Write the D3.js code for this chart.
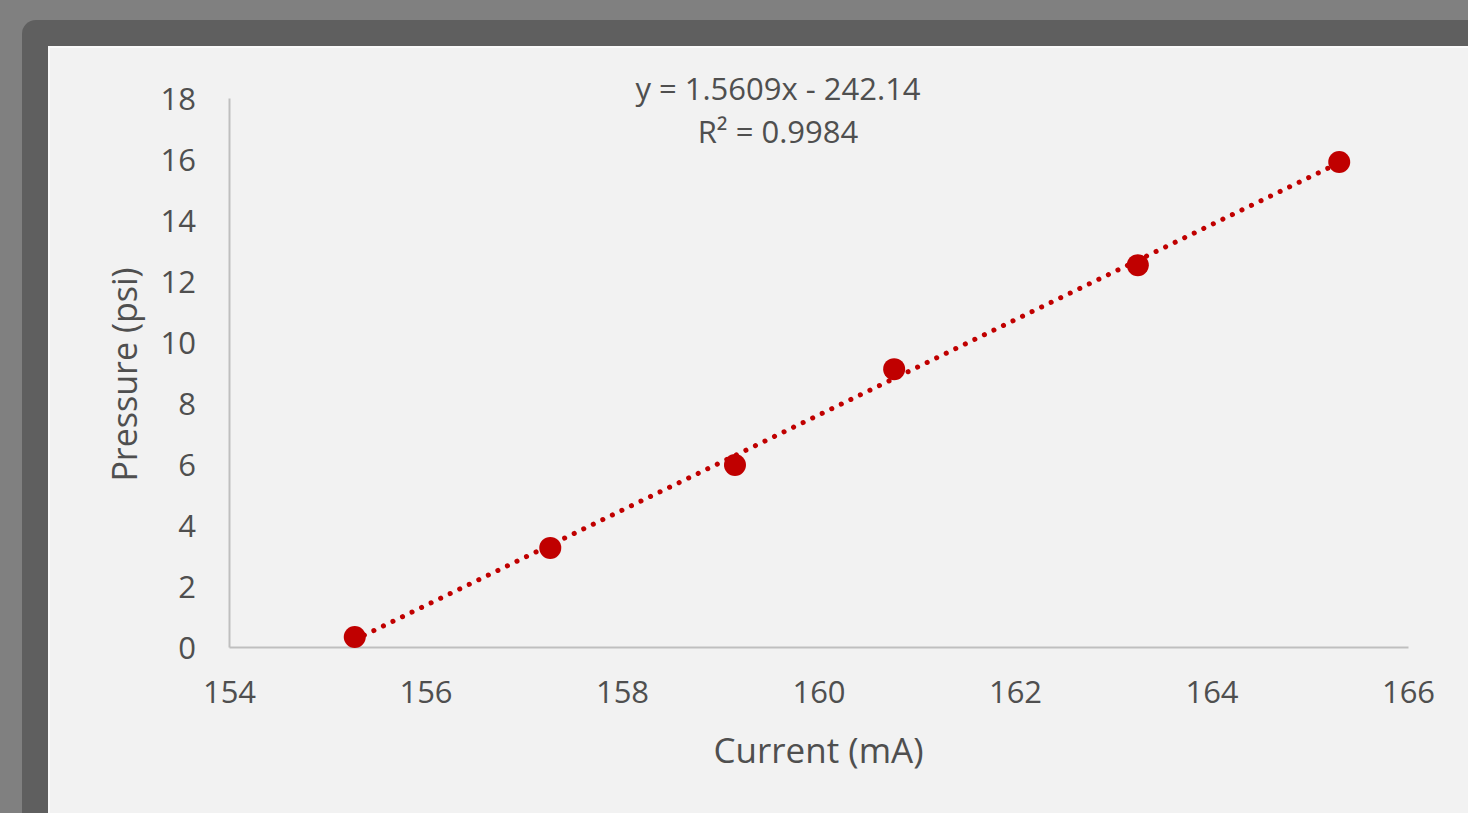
<!DOCTYPE html>
<html lang="en">
<head>
<meta charset="utf-8">
<title>Pressure vs Current</title>
<script src="https://cdnjs.cloudflare.com/ajax/libs/d3/7.8.5/d3.min.js"></script>
<style>
  body { margin: 0; background: #808080; overflow: hidden; }
  svg { display: block; font-family: "Open Sans", sans-serif; }
</style>
</head>
<body>
<div id="plot"></div>
<script>
// data
var current = [155.28, 157.27, 159.15, 160.77, 163.25, 165.30];
var pressure = [0.33, 3.25, 5.97, 9.11, 12.52, 15.90];
var xTicks = [154, 156, 158, 160, 162, 164, 166];
var yTicks = [0, 2, 4, 6, 8, 10, 12, 14, 16, 18];
var slope = 1.5609, intercept = -242.14;
var eqLines = ["y = 1.5609x - 242.14", "R\u00B2 = 0.9984"];

var width = 1468, height = 813;
var textColor = "#4f4f4f";
var svg = d3.select("#plot").append("svg")
    .attr("width", width).attr("height", height);

// frame
svg.append("rect").attr("x", 22).attr("y", 20).attr("width", width).attr("height", height)
    .attr("rx", 14).attr("fill", "#5f5f5f");
svg.append("rect").attr("x", 49).attr("y", 47).attr("width", width).attr("height", height)
    .attr("fill", "#f2f2f2").attr("stroke", "#fafafa").attr("stroke-width", 2);

var xScale = d3.scaleLinear().domain([154, 166]).range([229, 1408]);
var yScale = d3.scaleLinear().domain([0, 18]).range([647, 98]);

// axes
var xAxis = svg.append("g")
    .attr("transform", "translate(0," + yScale(0) + ")")
    .call(d3.axisBottom(xScale).tickValues(xTicks).tickSize(0).tickPadding(34));
var yAxis = svg.append("g")
    .attr("transform", "translate(" + xScale(154) + ",0)")
    .call(d3.axisLeft(yScale).tickValues(yTicks).tickSize(0).tickPadding(33));

[xAxis, yAxis].forEach(function(g) {
    g.select(".domain").attr("stroke", "#bfbfbf").attr("stroke-width", 2);
    g.selectAll("text").attr("fill", textColor).attr("font-size", 31)
        .attr("font-family", "Open Sans, sans-serif");
});
yAxis.selectAll("text").attr("dy", "0.36em");

// axis titles
svg.append("text")
    .attr("x", xScale(160)).attr("y", 763)
    .attr("text-anchor", "middle").attr("fill", textColor).attr("font-size", 35)
    .text("Current (mA)");
svg.append("text")
    .attr("transform", "translate(137," + (yScale(9) + 2) + ") rotate(-90)")
    .attr("text-anchor", "middle").attr("fill", textColor).attr("font-size", 34)
    .text("Pressure (psi)");

// trendline
var x0 = d3.min(current), x1 = d3.max(current);
svg.append("line")
    .attr("x1", xScale(x0)).attr("y1", yScale(slope * x0 + intercept))
    .attr("x2", xScale(x1)).attr("y2", yScale(slope * x1 + intercept))
    .attr("stroke", "#c00000").attr("stroke-width", 5)
    .attr("stroke-linecap", "round").attr("stroke-dasharray", "0.1 10.5");

// points
svg.selectAll("circle.pt")
    .data(current)
    .enter().append("circle")
    .attr("class", "pt")
    .attr("cx", function(d) { return xScale(d); })
    .attr("cy", function(d, i) { return yScale(pressure[i]); })
    .attr("r", 11)
    .attr("fill", "#c00000");

// equation
svg.selectAll("text.eq")
    .data(eqLines)
    .enter().append("text")
    .attr("class", "eq")
    .attr("x", 778).attr("y", function(d, i) { return 100 + i * 43; })
    .attr("text-anchor", "middle").attr("fill", textColor).attr("font-size", 31)
    .text(function(d) { return d; });
</script>
</body>
</html>
